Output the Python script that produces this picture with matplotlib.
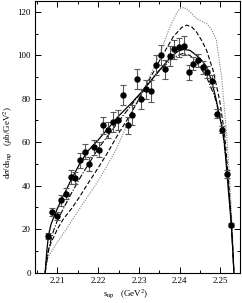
import numpy as np
import matplotlib
matplotlib.use("Agg")
import matplotlib.pyplot as plt
from matplotlib.ticker import MultipleLocator

plt.rcParams["font.family"] = ["Liberation Serif", "DejaVu Serif"]
plt.rcParams["mathtext.fontset"] = "stix"

# measured points
s_data = [2.2076, 2.2087, 2.2098, 2.2109, 2.2121, 2.2133, 2.2144, 2.2156, 2.2168, 2.2178,
          2.2190, 2.2202, 2.2213, 2.2225, 2.2237, 2.2248, 2.2261, 2.2272, 2.2283, 2.2295,
          2.2306, 2.2318, 2.2329, 2.2341, 2.2353, 2.2364, 2.2376, 2.2387, 2.2399, 2.2410,
          2.2422, 2.2433, 2.2445, 2.2457, 2.2468, 2.2480, 2.2491, 2.2503, 2.2515, 2.2525]
xs_data = [16.7, 27.8, 25.9, 33.3, 36.2, 44.0, 43.4, 51.6, 55.7, 49.9,
           57.7, 56.6, 67.7, 65.7, 69.5, 70.1, 81.6, 67.8, 72.6, 88.9,
           79.9, 84.4, 83.5, 95.6, 100.2, 93.5, 99.6, 102.7, 103.6, 104.5,
           92.1, 96.2, 97.7, 94.5, 92.2, 88.2, 73.2, 65.7, 45.4, 21.9]
xs_err = [1.5, 1.8, 1.9, 2.5, 2.5, 3.2, 2.8, 3.6, 3.5, 3.2,
          3.5, 3.5, 3.8, 3.8, 4.6, 4.6, 4.6, 4.0, 4.5, 4.6,
          4.5, 4.4, 5.0, 4.6, 4.6, 4.5, 4.6, 4.5, 4.4, 4.4,
          3.3, 3.0, 3.1, 2.9, 2.7, 2.7, 2.1, 1.6, 1.7, 1.0]

# model curves
s_solid = [2.2070, 2.2072, 2.2074, 2.2078, 2.2084, 2.2090, 2.2100, 2.2115, 2.2131, 2.2155,
           2.2175, 2.2200, 2.2225, 2.2250, 2.2279, 2.2311, 2.2343, 2.2376, 2.2395, 2.2409,
           2.2425, 2.2441, 2.2455, 2.2466, 2.2478, 2.2490, 2.2498, 2.2506, 2.2510, 2.2516,
           2.2523, 2.2527, 2.2531, 2.2533]
xs_solid = [0, 5, 10, 17, 22, 25, 29.5, 35.5, 41.7, 50.2,
            56, 61, 66.5, 72, 77.5, 84, 91.5, 98.8, 101.8, 102.7,
            102.3, 100, 97.5, 94.7, 88.5, 79.3, 71.6, 65, 59.4, 45.6,
            30.2, 21, 8, 0]

s_dashdot = [2.2070, 2.2074, 2.2080, 2.2090, 2.2100, 2.2130, 2.2160, 2.2200, 2.2250, 2.2300,
             2.2350, 2.2385, 2.2407, 2.2425, 2.2441, 2.2466, 2.2486, 2.2503, 2.2515, 2.2525,
             2.2530, 2.2533]
xs_dashdot = [0, 5, 12, 19, 24, 35, 45, 57, 69.5, 81.5,
              93, 99, 100.8, 100, 97, 90, 81, 68.6, 50, 28,
              12, 0]

s_dashed = [2.2070, 2.2073, 2.2078, 2.2085, 2.2100, 2.2114, 2.2135, 2.2155, 2.2175, 2.2196,
            2.2221, 2.2250, 2.2270, 2.2295, 2.2319, 2.2351, 2.2384, 2.2405, 2.2417, 2.2430,
            2.2441, 2.2455, 2.2466, 2.2482, 2.2498, 2.2510, 2.2520, 2.2527, 2.2533]
xs_dashed = [0, 6, 10.5, 14, 20, 24.5, 29.5, 35, 41, 47,
             54.5, 64, 70, 78, 86.5, 97.7, 108.5, 112.8, 113.9, 113,
             110.8, 106.5, 102.3, 93.1, 79.3, 64, 42, 22, 0]

s_dotted = [2.2070, 2.2072, 2.2076, 2.2085, 2.2100, 2.2122, 2.2160, 2.2196, 2.2220, 2.2245,
            2.2265, 2.2286, 2.2319, 2.2351, 2.2376, 2.2390, 2.2400, 2.2410, 2.2420, 2.2441,
            2.2455, 2.2466, 2.2478, 2.2490, 2.2503, 2.2515, 2.2525, 2.2530, 2.2533]
xs_dotted = [0, 3.5, 6.5, 9.5, 14, 20, 31, 41, 48.5, 57,
             65.5, 75.5, 87, 100.8, 113, 118.5, 121.5, 122, 121, 117,
             115.5, 114.6, 112, 107, 90, 64, 35, 15, 0]

fig = plt.figure(figsize=(2.42, 3.03), dpi=100)
ax = fig.add_axes([35 / 242, 30.5 / 303, 205 / 242, 271.5 / 303])

ax.plot(s_dotted, xs_dotted, color="0.5", lw=0.8, ls=(0, (1, 1.2)))
ax.plot(s_dashed, xs_dashed, color="k", lw=0.8, ls=(0, (4, 2)))
ax.plot(s_dashdot, xs_dashdot, color="k", lw=0.8, ls=(0, (5, 1.5, 1, 1.5)))
ax.plot(s_solid, xs_solid, color="k", lw=0.9)
ax.errorbar(s_data, xs_data, yerr=xs_err, fmt="o", color="k", ms=3.6,
            ecolor="0.35", elinewidth=0.8, capsize=2.5, capthick=0.8)

ax.set_xlim(2.2045, 2.2548)
ax.set_ylim(0, 125)
ax.xaxis.set_major_locator(MultipleLocator(0.01))
ax.xaxis.set_minor_locator(MultipleLocator(0.005))
ax.yaxis.set_major_locator(MultipleLocator(20))
ax.yaxis.set_minor_locator(MultipleLocator(10))
ax.tick_params(which="both", direction="in", top=True, right=True, labelsize=6.5, width=0.7)
ax.tick_params(which="major", length=4, pad=3)
ax.tick_params(which="minor", length=2.2)
for sp in ax.spines.values():
    sp.set_linewidth(0.8)

ax.text(0.44, -0.058, r"s$_{\rm np}$   (GeV$^2$)", transform=ax.transAxes,
        ha="center", va="top", fontsize=6.5)
fig.text(0.035, 0.53, r"d$\sigma$/ds$_{\rm np}$   ($\mu$b/GeV$^2$)", rotation=90,
         ha="center", va="center", fontsize=6.5)

fig.savefig("out.png", dpi=100)
